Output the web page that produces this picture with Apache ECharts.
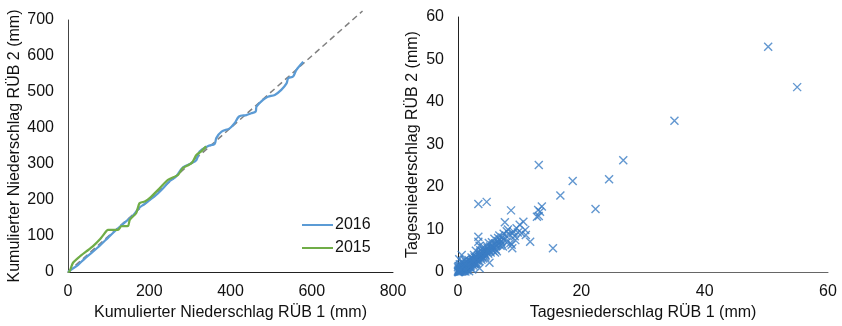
<!DOCTYPE html>
<html>
<head>
<meta charset="utf-8">
<script src="https://cdn.jsdelivr.net/npm/echarts@6/dist/echarts.min.js"></script>
<style>
  html, body { margin: 0; padding: 0; background: #fff; }
  #main { width: 842px; height: 326px; }
</style>
</head>
<body>
<div id="main"></div>
<script>
var chartDom = document.getElementById('main');
var myChart = echarts.init(chartDom);
var option;

// Doppelsummenkurve: kumulierter Niederschlag [RÜB 1, RÜB 2] in mm
var cum2016 = [
  [0, 0], [10, 8], [25, 20], [40, 36], [60, 55], [80, 75], [100, 97], [120, 118],
  [140, 138], [160, 157], [175, 178], [190, 190], [201, 200], [215, 212], [230, 228],
  [250, 252], [265, 264], [283, 291], [304, 302], [316, 311], [324, 335], [345, 350],
  [361, 356], [365, 372], [378, 390], [398, 399], [410, 413], [421, 432], [439, 436],
  [451, 441], [462, 446], [464, 459], [480, 478], [492, 487], [509, 492], [525, 506],
  [538, 524], [542, 538], [554, 543], [562, 561], [579, 584]
];
var cum2015 = [
  [0, 0], [4, 2], [12, 25], [29, 43], [45, 57], [61, 71], [78, 90], [94, 113],
  [98, 117], [123, 117], [131, 127], [148, 128], [152, 145], [168, 164], [176, 191],
  [189, 196], [201, 205], [226, 233], [246, 256], [271, 270], [283, 289], [304, 302],
  [316, 325], [328, 335], [340, 349]
];
var diag = [[0, 0], [725, 725]];

// Tagesniederschlag [RÜB 1, RÜB 2] in mm
var daily = [
  [0, 0], [0.1, 0.2], [0.2, 0], [0.3, 0.5], [0.4, 0.2], [0.5, 0.7], [0.6, 0.4], [0.2, 0.8],
  [0, 1.1], [0.8, 0.6], [0.9, 1.0], [1.0, 0.8], [1.1, 1.3], [1.2, 0.9], [0.7, 1.5],
  [1.3, 1.6], [1.4, 1.1], [1.5, 1.8], [1.6, 1.4], [0.3, 1.8], [1.7, 2.0], [1.8, 1.5],
  [1.9, 2.3], [2.0, 1.8], [0.5, 0.1], [0.1, 0.6], [1.0, 0.3], [0.6, 4.0], [1.5, 0.4],
  [0, 0.3], [0.1, 0], [0.3, 0.1], [0.4, 0.9], [0.9, 0.2], [1.2, 0.1], [0.8, 1.9],
  [2.1, 2.6], [2.2, 2.0], [2.3, 2.8], [2.4, 2.2], [2.5, 3.1], [2.6, 2.5], [2.7, 1.8],
  [2.8, 3.3], [2.9, 2.9], [3.0, 3.6], [3.1, 2.7], [3.2, 3.9], [3.3, 3.2], [3.4, 4.2],
  [3.5, 0.9], [3.6, 3.6], [3.7, 4.4], [3.8, 3.9], [3.9, 4.8], [4.0, 4.1], [4.2, 5.0],
  [4.3, 4.4], [4.5, 5.3], [4.6, 4.7], [4.8, 5.6], [5.0, 5.1], [5.1, 2.2], [5.2, 6.0],
  [5.4, 5.5], [5.6, 6.3], [5.8, 5.7], [6.0, 6.7], [6.2, 6.2], [6.4, 7.3], [6.5, 8.0],
  [6.6, 6.6], [6.8, 7.6], [7.0, 7.1], [7.2, 8.1], [7.3, 6.0], [7.5, 7.5], [7.6, 11.7],
  [7.8, 8.5], [8.0, 7.2], [8.3, 8.8], [8.5, 6.8], [8.6, 14.5], [8.8, 5.6], [8.7, 6.4],
  [9.0, 9.5], [9.2, 8.4], [9.5, 10.3], [9.7, 9.3], [10.0, 11.1], [10.3, 9.1], [10.6, 11.8],
  [10.9, 9.9], [11.0, 8.7], [11.7, 7.1], [12.8, 13.0], [13.0, 14.6], [13.3, 14.2],
  [13.6, 15.4], [13.1, 13.2], [13.1, 25.2], [15.4, 5.6], [16.6, 18.0], [18.6, 21.4],
  [22.3, 14.8], [24.5, 21.8], [26.8, 26.3], [35.1, 35.6], [50.3, 53.0], [55.0, 43.5],
  [3.3, 16.0], [4.65, 16.5], [3.3, 8.3], [3.3, 7.1], [3.5, 6.2], [2.9, 5.0], [4.1, 3.2],
  [4.4, 3.6], [4.9, 4.3], [5.3, 4.6], [5.7, 5.0], [6.1, 5.3], [6.3, 4.9], [6.9, 6.2],
  [7.1, 6.6], [5.5, 7.0], [4.7, 6.1], [4.0, 5.7], [3.6, 5.1], [2.6, 4.0], [2.2, 3.4],
  [1.7, 2.8], [1.3, 2.3], [1.0, 1.7], [1.4, 0.6], [2.0, 1.1], [2.5, 1.5], [3.0, 2.0],
  [3.4, 2.5], [0.4, 1.3], [0.7, 2.4], [1.1, 2.9], [0.2, 3.0], [7.9, 9.6], [8.1, 10.0],
  [8.9, 9.1], [9.3, 7.5], [6.7, 8.6], [7.4, 9.0], [5.9, 7.8], [5.0, 6.8], [6.0, 4.6],
  [4.5, 3.9], [3.8, 2.9], [2.3, 0.6], [1.8, 0.2], [2.8, 2.1], [0.6, 0.9], [1.6, 0.9],
  [0.2, 0.4], [0.5, 1.1], [0.7, 0.2], [0.9, 1.4], [1.1, 0.6], [1.3, 1.0], [1.5, 1.2],
  [1.6, 2.1], [1.8, 1.1], [2.0, 2.5], [2.1, 1.5], [2.3, 1.9], [2.4, 3.0], [2.6, 2.0],
  [2.7, 3.5], [2.9, 2.4], [3.1, 3.3], [3.3, 2.8], [3.5, 4.0], [3.7, 3.3], [3.9, 3.6],
  [4.1, 4.6], [4.4, 4.1], [0.1, 1.4], [0.4, 0.5], [0.8, 1.2], [1.2, 1.9], [1.9, 1.4],
  [2.2, 2.4], [2.5, 2.8], [3.0, 3.1], [3.6, 4.3], [4.8, 4.9], [5.5, 5.9], [6.3, 6.5]
];

var xTicks1 = [0, 200, 400, 600, 800];
var yTicks1 = [0, 100, 200, 300, 400, 500, 600, 700];
var xTicks2 = [0, 20, 40, 60];
var yTicks2 = [0, 10, 20, 30, 40, 50, 60];

var font = 'Liberation Sans, Arial, sans-serif';
var txt = { color: '#111', fontSize: 16, fontFamily: font };

function xMarker() {
  return 'path://M0,0L10,10M10,0L0,10';
}

option = {
  animation: false,
  backgroundColor: '#fff',
  textStyle: { fontFamily: font },
  legend: {
    data: ['2016', '2015'],
    orient: 'vertical',
    left: 297,
    top: 212,
    icon: 'rect',
    itemWidth: 31,
    itemHeight: 2,
    itemGap: 7,
    textStyle: Object.assign({ padding: [0, 0, 0, -3] }, txt)
  },
  grid: [
    { left: 68, top: 20, width: 325, height: 252 },
    { left: 458, top: 17, width: 370, height: 255 }
  ],
  xAxis: [
    {
      gridIndex: 0, type: 'value', min: xTicks1[0], max: xTicks1[xTicks1.length - 1], interval: 200,
      name: 'Kumulierter Niederschlag RÜB 1 (mm)', nameLocation: 'middle', nameGap: 32,
      nameTextStyle: txt,
      axisLine: { show: true, lineStyle: { color: '#222', width: 1 } },
      axisTick: { show: false },
      axisLabel: Object.assign({ margin: 12 }, txt),
      splitLine: { show: false }
    },
    {
      gridIndex: 1, type: 'value', min: xTicks2[0], max: xTicks2[xTicks2.length - 1], interval: 20,
      name: 'Tagesniederschlag RÜB 1 (mm)', nameLocation: 'middle', nameGap: 32,
      nameTextStyle: txt,
      axisLine: { show: true, lineStyle: { color: '#666', width: 1 } },
      axisTick: { show: false },
      axisLabel: Object.assign({ margin: 12 }, txt),
      splitLine: { show: false }
    }
  ],
  yAxis: [
    {
      gridIndex: 0, type: 'value', min: yTicks1[0], max: yTicks1[yTicks1.length - 1], interval: 100,
      name: 'Kumulierter Niederschlag RÜB 2 (mm)', nameLocation: 'middle', nameGap: 45,
      nameTextStyle: txt,
      axisLine: { show: true, lineStyle: { color: '#444', width: 1 } },
      axisTick: { show: false },
      axisLabel: Object.assign({ margin: 14 }, txt),
      splitLine: { show: false }
    },
    {
      gridIndex: 1, type: 'value', min: yTicks2[0], max: yTicks2[yTicks2.length - 1], interval: 10,
      name: 'Tagesniederschlag RÜB 2 (mm)', nameLocation: 'middle', nameGap: 37,
      nameTextStyle: txt,
      axisLine: { show: true, lineStyle: { color: '#222', width: 1 } },
      axisTick: { show: false },
      axisLabel: Object.assign({ margin: 14 }, txt),
      splitLine: { show: false }
    }
  ],
  series: [
    {
      name: '1:1', type: 'line', xAxisIndex: 0, yAxisIndex: 0,
      data: diag, symbol: 'none', clip: false, silent: true,
      lineStyle: { color: '#808080', width: 1.5, type: [6, 4] }
    },
    {
      name: '2016', type: 'line', xAxisIndex: 0, yAxisIndex: 0,
      data: cum2016, symbol: 'none', smooth: 0.3,
      color: '#5b9bd5',
      lineStyle: { color: '#5b9bd5', width: 2.25 }
    },
    {
      name: '2015', type: 'line', xAxisIndex: 0, yAxisIndex: 0,
      data: cum2015, symbol: 'none', smooth: 0.2,
      color: '#70ad47',
      lineStyle: { color: '#70ad47', width: 2.25 }
    },
    {
      name: 'Tageswerte', type: 'scatter', xAxisIndex: 1, yAxisIndex: 1,
      data: daily, symbol: xMarker(), symbolSize: 8,
      itemStyle: { color: 'rgba(0,0,0,0)', borderColor: '#3b7dc4', borderWidth: 1.4 }
    }
  ]
};

option && myChart.setOption(option);
</script>
</body>
</html>
